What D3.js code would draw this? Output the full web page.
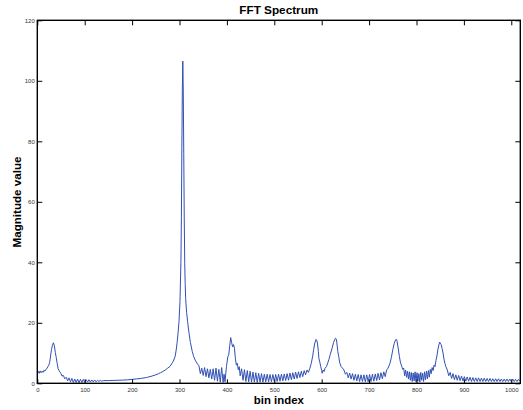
<!DOCTYPE html>
<html>
<head>
<meta charset="utf-8">
<script src="https://cdn.jsdelivr.net/npm/d3@7"></script>
<style>
  html, body { margin: 0; padding: 0; background: #fff; }
  svg { display: block; font-family: "Liberation Sans", Arial, Helvetica, sans-serif; }
</style>
</head>
<body>
<svg id="chart" width="523" height="410"></svg>
<script>
// ---- data ----
const binIndex = [
  0,2,4,6,8,10,12,14,16,18,20,22,24,26,28,30,32,34,36,38,40,42,44,46,48,50,52,55,58,
  61,64,67,70,73,76,79,82,85,88,91,94,97,100,103,106,109,112,115,118,121,124,127,130,133,136,140,
  150,160,170,180,190,200,210,220,230,240,250,256,260,265,270,275,280,285,288,291,293,295,297,299,301,303,304,305,306,307,308,309,310,311,312,313,315,317,320,323,327,330,334,338,341,
  344,347,350,353,356,359,362,365,368,371,374,377,380,383,386,389,392,394,396,399,402,404,406,408,410,412,414,416,418,420,422,424,426,428,
  431,434,437,440,443,446,449,452,455,458,461,464,467,470,473,476,479,482,485,488,491,494,497,500,503,506,509,512,515,518,521,524,527,530,533,536,539,542,545,548,551,554,557,560,563,566,569,572,575,
  578,581,583,585,588,590,591,593,594,596,598,600,601,603,605,607,610,613,615,618,622,625,629,631,632,634,636,638,641,644,647,650,
  653,656,659,662,665,668,671,674,677,680,683,686,689,692,695,698,701,704,707,710,713,716,719,722,725,728,731,734,737,
  740,744,747,750,753,756,758,759,761,764,766,769,771,773,
  775,777,779,781,783,785,787,789,791,793,795,797,799,801,803,805,807,809,811,813,815,817,819,821,823,825,827,829,831,833,835,
  837,839,841,843,845,847,849,851,852,854,856,858,860,862,865,
  868,871,874,877,880,883,886,889,892,895,898,901,904,907,910,913,916,919,922,925,928,931,934,937,940,943,946,949,952,955,958,961,964,967,970,973,976,979,982,985,988,991,994,997,1000,1003,1006,1009,1012,1015,1018
];
const magnitude = [
  3.4,4.0,3.3,4.1,3.5,4.0,3.6,4.3,4.0,4.6,4.8,5.4,5.9,6.8,9.0,11.2,12.6,13.4,12.4,10.2,8.5,6.5,4.8,4.2,3.6,3.3,2.4,2.6,1.5,
  2.0,0.8,1.8,0.5,1.6,0.3,1.4,0.3,1.4,0.2,1.3,0.3,1.3,0.3,1.2,0.4,1.2,0.4,1.1,0.5,1.1,0.5,1.0,0.6,1.0,0.7,0.9,
  0.9,0.95,1.0,1.05,1.15,1.3,1.45,1.65,1.9,2.3,2.8,3.2,3.5,3.9,4.4,5.0,5.6,6.8,7.7,9.0,11,13.5,16.7,20.5,27,40,55,78,97,106.5,96,76,55,40,33,28,23.5,20.5,16.7,13.5,10.5,8.8,7.4,6.4,5.8,
  3.2,5.0,2.6,5.2,2.2,4.8,1.8,4.6,1.4,4.8,1.0,5.0,0.7,4.6,0.4,5.2,0.3,3.0,0.5,5.5,8.8,9.5,12.5,15.1,13.5,12.0,12.8,11.6,8.0,6.0,6.6,4.5,5.5,2.5,
  4.8,1.0,4.5,0.6,4.2,0.5,4.0,0.4,3.7,0.4,3.5,0.3,3.3,0.4,3.2,0.4,3.0,0.5,3.0,0.5,2.9,0.5,2.9,0.6,2.9,0.6,3.0,0.7,3.0,0.8,3.1,0.9,3.2,1.0,3.4,1.2,3.5,1.4,3.7,1.6,3.8,1.9,4.0,2.2,4.2,2.8,4.4,3.6,5.0,
  6.6,9.0,11.1,13.0,14.5,14.0,13.3,10.5,8.3,7.0,5.5,4.2,3.3,4.4,3.9,5.0,5.5,6.8,7.8,9.5,11.6,13.5,14.9,14.6,13.3,10.5,8.8,6.8,5.5,5.0,4.4,3.0,
  3.6,1.8,3.4,1.4,3.2,1.0,3.0,0.8,2.9,0.6,2.8,0.6,2.8,0.5,2.8,0.5,2.9,0.6,3.0,0.7,3.1,0.9,3.3,1.1,3.5,1.5,3.8,2.2,4.4,
  5.0,6.6,8.5,11.1,13.2,14.4,14.5,13.9,12.0,8.8,7.0,5.5,4.6,5.0,
  2.5,4.4,2.0,4.0,1.4,3.8,1.0,3.6,0.6,3.4,0.8,3.8,0.5,3.5,0.7,3.2,0.4,3.6,1.0,3.3,0.6,3.8,1.2,4.0,1.5,4.2,2.0,4.6,3.2,5.2,4.2,
  6.0,5.5,7.5,9.0,11.0,12.6,13.6,13.0,12.8,11.5,10.0,8.0,6.6,5.5,4.4,
  2.5,3.6,1.6,3.2,1.2,2.8,1.0,2.6,0.9,2.4,0.8,2.2,0.7,2.1,0.7,2.0,0.6,1.9,0.6,1.8,0.6,1.8,0.6,1.7,0.6,1.7,0.6,1.6,0.6,1.6,0.6,1.5,0.6,1.5,0.6,1.5,0.6,1.4,0.6,1.4,0.6,1.4,0.6,1.4,0.6,1.4,0.6,1.3,0.6,1.3,0.7
];
const xTicks = [0,100,200,300,400,500,600,700,800,900,1000];
const yTicks = [0,20,40,60,80,100,120];
const xDomain = [0, 1019];
const yDomain = [0, 120];
const titleText = "FFT Spectrum";
const xLabelText = "bin index";
const yLabelText = "Magnitude value";

// ---- drawing ----
const svg = d3.select("#chart");
const L = 37.3, R = 520.3, T = 20.3, B = 383.3;
const x = d3.scaleLinear().domain(xDomain).range([L, R]);
const y = d3.scaleLinear().domain(yDomain).range([B, T]);

const n = Math.min(binIndex.length, magnitude.length);
const pts = d3.range(n).map(i => [binIndex[i], magnitude[i]]);

const line = d3.line().x(d => x(d[0])).y(d => y(d[1]));
svg.append("path")
  .datum(pts)
  .attr("d", line)
  .attr("fill", "none")
  .attr("stroke", "#3050b4")
  .attr("stroke-width", 1)
  .attr("stroke-linejoin", "round");

function styleAxis(g) {
  g.select(".domain").remove();
  g.selectAll(".tick line").attr("stroke", "#000").attr("stroke-width", 1);
  g.selectAll(".tick text").attr("fill", "#333").attr("font-size", 6);
}

svg.append("g").attr("transform", `translate(0,${B})`)
  .call(d3.axisBottom(x).tickValues(xTicks).tickSize(-4).tickPadding(4).tickFormat(d3.format("d")))
  .call(styleAxis);
svg.append("g").attr("transform", `translate(0,${T})`)
  .call(d3.axisTop(x).tickValues(xTicks).tickSize(-5).tickFormat(""))
  .call(styleAxis);
svg.append("g").attr("transform", `translate(${L},0)`)
  .call(d3.axisLeft(y).tickValues(yTicks).tickSize(-5).tickPadding(2.5).tickFormat(d3.format("d")))
  .call(styleAxis);
svg.append("g").attr("transform", `translate(${R},0)`)
  .call(d3.axisRight(y).tickValues(yTicks).tickSize(-5).tickFormat(""))
  .call(styleAxis);

// frame
svg.append("rect")
  .attr("x", L).attr("y", T)
  .attr("width", R - L).attr("height", B - T)
  .attr("fill", "none").attr("stroke", "#000").attr("stroke-width", 1.4);

// labels
svg.append("text")
  .attr("x", (L + R) / 2).attr("y", 13.5)
  .attr("text-anchor", "middle")
  .attr("font-size", 11).attr("font-weight", "bold")
  .attr("textLength", 79).attr("lengthAdjust", "spacingAndGlyphs")
  .text(titleText);
svg.append("text")
  .attr("x", (L + R) / 2).attr("y", 403.5)
  .attr("text-anchor", "middle")
  .attr("font-size", 11).attr("font-weight", "bold")
  .attr("textLength", 50).attr("lengthAdjust", "spacingAndGlyphs")
  .text(xLabelText);
svg.append("text")
  .attr("transform", `translate(21,202) rotate(-90)`)
  .attr("text-anchor", "middle")
  .attr("font-size", 11).attr("font-weight", "bold")
  .attr("textLength", 91).attr("lengthAdjust", "spacingAndGlyphs")
  .text(yLabelText);
</script>
</body>
</html>
